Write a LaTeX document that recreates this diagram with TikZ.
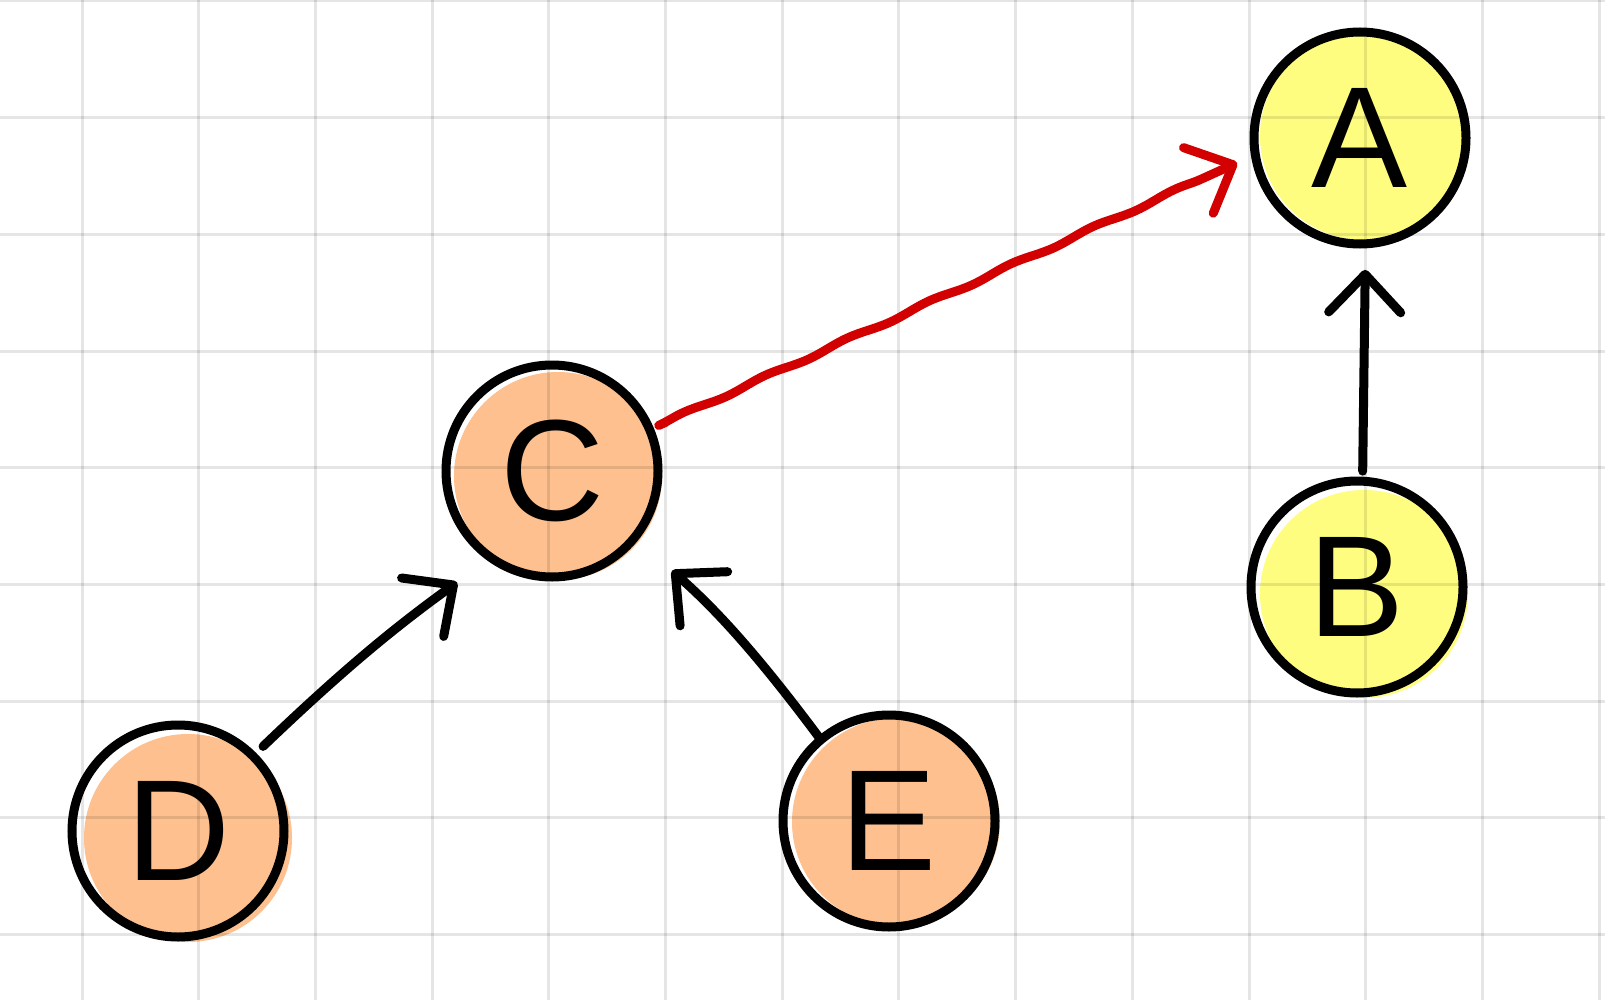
\documentclass[tikz,border=0pt]{standalone}
\usepackage{fontspec}
\setmainfont{Liberation Sans}
\usetikzlibrary{arrows.meta,decorations.pathmorphing}
\definecolor{peach}{RGB}{253,192,142}
\definecolor{lemon}{RGB}{255,253,128}
\definecolor{inkred}{RGB}{210,0,0}
\begin{document}
\begin{tikzpicture}[x=0.5pt,y=-0.5pt,
  bubble/.style={circle, draw=black, line width=4.5pt, minimum size=106pt, inner sep=0pt, outer sep=0pt, font=\fontsize{72}{72}\selectfont},
  blob/.style={circle, minimum size=104pt, inner sep=0pt, outer sep=0pt},
  link/.style={line width=4.5pt, line cap=round, line join=round, -{Straight Barb[length=19pt,width=36pt,round]}},
  gridline/.style={black, opacity=0.1, line width=1.5pt}]
\useasboundingbox (0,0) rectangle (1605,1000);
\fill[white] (0,0) rectangle (1605,1000);
% offset fills
\node[blob, fill=lemon] (fA) at (1364,136) {};
\node[blob, fill=lemon] (fB) at (1364,594) {};
\node[blob, fill=peach] (fC) at (558,476) {};
\node[blob, fill=peach] (fD) at (188,838) {};
\node[blob, fill=peach] (fE) at (896,822) {};
% grid
\foreach \i in {0,...,13} \draw[gridline] ({82+116.7*\i},0) -- ({82+116.7*\i},1000);
\foreach \j in {0,...,8} \draw[gridline] (0,{1+116.7*\j}) -- (1605,{1+116.7*\j});
% nodes
\node[bubble] (A) at (1360,138) {A};
\node[bubble] (B) at (1357,587) {B};
\node[bubble] (C) at (552,471) {C};
\node[bubble] (D) at (178,831) {D};
\node[bubble] (E) at (889,821) {E};
% connectors
\draw[link, inkred, decorate, decoration={snake, amplitude=0.8pt, segment length=45pt, pre length=5pt, post length=20pt}, shorten <=9pt, shorten >=10pt] (C.23) -- (A.189);
\draw[link, shorten <=5pt, shorten >=13pt] (B.87) -- (A.273);
\draw[link, shorten <=7pt, shorten >=21pt] (D.45) to[bend left=4] (C.235);
\draw[link, shorten <=1pt, shorten >=25pt] (E.130) to[bend right=6] (C.321);
\end{tikzpicture}
\end{document}
